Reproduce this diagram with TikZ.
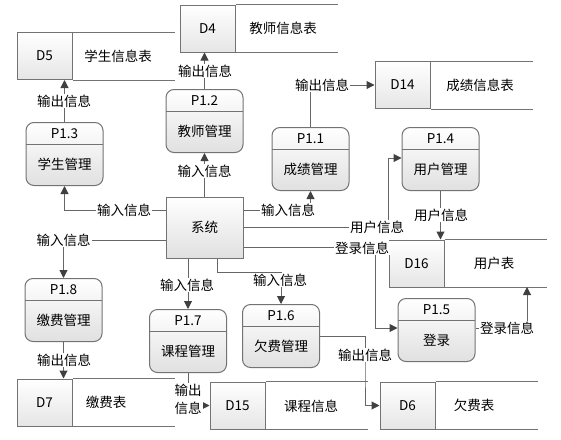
\documentclass[tikz,border=0pt]{standalone}
\usepackage{fontspec}
\setmainfont{Noto Sans CJK SC}
\usetikzlibrary{arrows.meta}

\begin{document}
\begin{tikzpicture}[x=1pt,y=-1pt,font=\fontsize{13.5}{15}\selectfont,rim/.style={draw=black!55, line width=1pt},flow/.style={draw=black!60, line width=1pt, -{Triangle[length=8pt,width=8pt,color=black!75]}},proc/.style={rounded corners=8pt, draw=black!55, line width=1pt, top color=white, bottom color=black!12, minimum width=77pt, minimum height=63pt, text height=31pt, text depth=0pt, anchor=north, path picture={\draw[black!55, line width=1pt] ([yshift=-22pt]path picture bounding box.north west) -- ([yshift=-22pt]path picture bounding box.north east);}},ptitle/.style={anchor=north, inner sep=0pt, yshift=-6pt},sysbox/.style={draw=black!55, line width=1pt, top color=white, bottom color=black!12, minimum width=77pt, minimum height=61pt},store/.style={draw=black!55, line width=1pt, top color=white, bottom color=black!10, minimum width=55pt, minimum height=47pt},lbl/.style={fill=white, inner sep=1pt}]
\useasboundingbox (0,0) rectangle (561,439);
\node[sysbox] (sys) at (204.5,227.5) {系统};
\node[proc, label={[ptitle]north:P1.2}] (p12) at (204.5,89) {教师管理};\node[proc, label={[ptitle]north:P1.3}] (p13) at (64.5,122) {学生管理};\node[proc, label={[ptitle]north:P1.1}] (p11) at (310.5,127) {成绩管理};\node[proc, label={[ptitle]north:P1.4}] (p14) at (440.5,127) {用户管理};
\node[proc, label={[ptitle]north:P1.8}] (p18) at (63.5,278) {缴费管理};\node[proc, label={[ptitle]north:P1.7}] (p17) at (188,309) {课程管理};\node[proc, label={[ptitle]north:P1.6}] (p16) at (281,304) {欠费管理};\node[proc, label={[ptitle]north:P1.5}] (p15) at (436.5,298) {登录};
\node[store] (d5) at (44.5,56) {D5};\node[store] (d4) at (207.5,28.5) {D4};\node[store] (d14) at (402.5,85) {D14};\node[store] (d16) at (416.5,263.5) {D16};\node[store] (d7) at (44.5,402.5) {D7};\node[store] (d15) at (237.5,405.5) {D15};\node[store] (d6) at (407.5,405.5) {D6};
\foreach \d in {d5,d4,d14,d16,d7,d15,d6} \draw[rim] (\d.north east) -- +(102,0) (\d.south east) -- +(102,0);
\node (t5) at (118,56) {学生信息表};\node (t4) at (283,28) {教师信息表};\node (t14) at (480,85) {成绩信息表};\node (t16) at (494,263) {用户表};\node (t7) at (106,402) {缴费表};\node (t15) at (311,406) {课程信息};\node (t6) at (474,405) {欠费表};
\coordinate (c7) at (388,158);\coordinate (c9) at (375,328);\coordinate (c10) at (527,287);\coordinate (c13) at (217,272);\coordinate (c16) at (365,370);
\draw[flow] (sys.west |- 0,210) -| (p13.south);\draw[flow] (sys.north) -- (p12.south);\draw[flow] (p12.north) -- (p12.north |- d4.south);\draw[flow] (p13.north) -- (p13.north |- d5.south);
\draw[flow] (sys.east |- 0,210) -| (p11.south);\draw[flow] (p11.north) |- (d14.west);\draw[flow] (sys.east) -| (c7) -- (c7 -| p14.west);\draw[flow] (p14.south) -- (p14.south |- d16.north);
\draw[flow] (sys.east |- 0,247) -| (c9) -- (c9 -| p15.west);\draw[flow] (c9 -| p15.east) -| (c10);\draw[flow] (sys.west |- 0,240) -| (p18.north);\draw[flow] (p17.north |- sys.south) -- (p17.north);
\draw[flow] (c13 |- sys.south) -- (c13) -| (p16.north);\draw[flow] (p18.south) -- (p18.south |- d7.north);\draw[flow] (p17.south) |- (d15.west);\draw[flow] (p16.east) -| (c16) |- (d6.west);
\node[lbl] (l1) at (124,210) {输入信息};\node[lbl] (l2) at (204.5,171) {输入信息};\node[lbl] (l3) at (205,71) {输出信息};\node[lbl] (l4) at (64,101) {输出信息};\node[lbl] (l5) at (288,210) {输入信息};\node[lbl] (l6) at (322,85) {输出信息};\node[lbl] (l7) at (377,227) {用户信息};\node[lbl] (l8) at (441,215) {用户信息};
\node[lbl] (l9) at (362,248) {登录信息};\node[lbl] (l10) at (507,328) {登录信息};\node[lbl] (l11) at (63.5,240) {输入信息};\node[lbl] (l12) at (187,285) {输入信息};\node[lbl] (l13) at (280,280) {输入信息};\node[lbl] (l14) at (64,360) {输出信息};\node[lbl, align=center, font=\fontsize{13.5}{18}\selectfont] (l15) at (188,399) {输出\\信息};\node[lbl] (l16) at (365,355) {输出信息};
\end{tikzpicture}
\end{document}
